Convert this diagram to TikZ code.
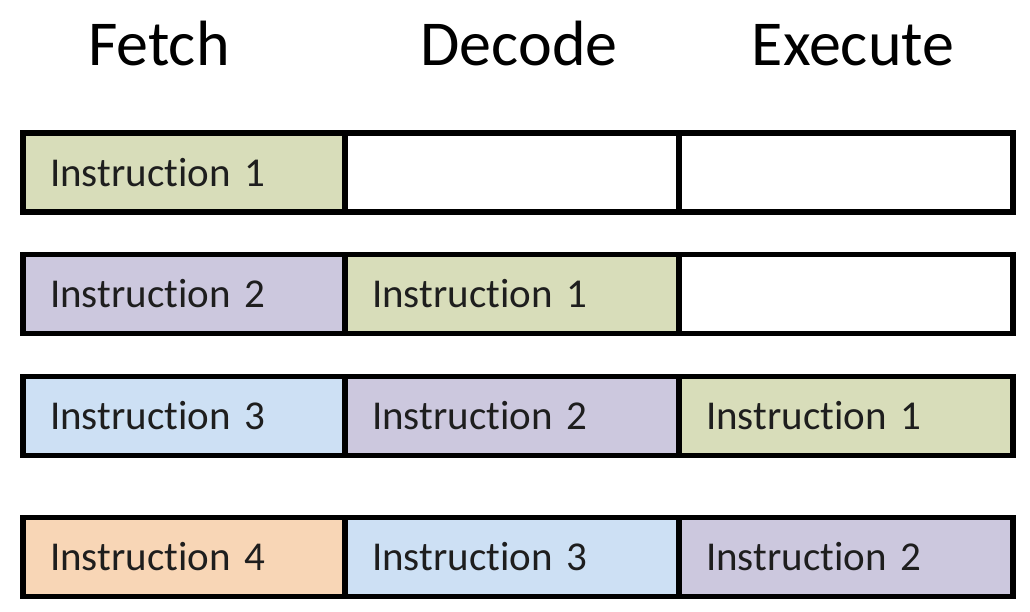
\documentclass[tikz,border=0pt]{standalone}
\usepackage{fontspec}
\setmainfont{Carlito}[Ligatures=NoCommon]
\definecolor{cgreen}{RGB}{216,221,186}
\definecolor{cpurple}{RGB}{204,200,222}
\definecolor{cblue}{RGB}{205,224,244}
\definecolor{corange}{RGB}{248,214,182}
\definecolor{ctext}{RGB}{30,30,30}
\tikzset{
  cell/.style={draw=black, line width=5.5pt, rectangle, minimum height=79pt,
    inner xsep=27pt, inner ysep=0pt, align=left, anchor=center,
    font=\fontsize{41}{45}\selectfont, text=ctext},
  cA/.style={cell, minimum width=322pt, text width=268pt},
  cB/.style={cell, minimum width=334pt, text width=280pt},
  head/.style={font=\fontsize{64}{70}\selectfont, text=black, anchor=base}
}
\begin{document}
\begin{tikzpicture}[x=1pt,y=-1pt]
\useasboundingbox (0,0) rectangle (1030,612);
\fill[white] (0,0) rectangle (1030,612);
% headings
\node[head] (hf) at (159,66) {Fetch};
\node[head] (hd) at (519,66) {Decode};
\node[head] (he) at (853,66) {Execute};
% row 1
\node[cA, fill=cgreen] (r1a) at (184,172.5) {Instruction 1};
\node[cB, fill=white] (r1b) at (512,172.5) {};
\node[cB, fill=white] (r1c) at (846,172.5) {};
% row 2
\node[cA, fill=cpurple] (r2a) at (184,294) {Instruction 2};
\node[cB, fill=cgreen] (r2b) at (512,294) {Instruction 1};
\node[cB, fill=white] (r2c) at (846,294) {};
% row 3
\node[cA, fill=cblue] (r3a) at (184,416) {Instruction 3};
\node[cB, fill=cpurple] (r3b) at (512,416) {Instruction 2};
\node[cB, fill=cgreen] (r3c) at (846,416) {Instruction 1};
% row 4
\node[cA, fill=corange] (r4a) at (184,557) {Instruction 4};
\node[cB, fill=cblue] (r4b) at (512,557) {Instruction 3};
\node[cB, fill=cpurple] (r4c) at (846,557) {Instruction 2};
\end{tikzpicture}
\end{document}
